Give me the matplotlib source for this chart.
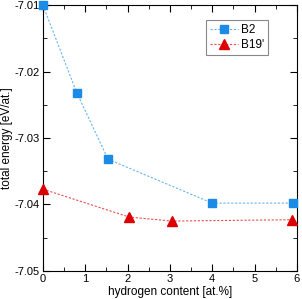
import numpy as np
import matplotlib.pyplot as plt
from matplotlib.ticker import MultipleLocator

plt.rcParams['font.family'] = ['Liberation Sans', 'DejaVu Sans']

# B2 phase
x_b2 = [0.0, 0.8, 1.54, 4.0, 5.9]
e_b2 = [-7.0100, -7.0232, -7.0332, -7.0398, -7.0398]
# B19' phase
x_b19 = [0.0, 2.04, 3.04, 5.88]
e_b19 = [-7.0377, -7.0419, -7.0425, -7.0423]

fig = plt.figure(figsize=(3.02, 2.99), dpi=100)
ax = fig.add_axes([0.142, 0.094, 0.841, 0.889])

ax.plot(x_b2, e_b2, ls=(0, (2, 1.5)), lw=0.8, color='#6ab4f0', marker='s', ms=5.5,
        mfc='#1a8ce8', mec='#1a8ce8', label='B2', clip_on=False, zorder=3)
ax.plot(x_b19, e_b19, ls=(0, (2, 1.5)), lw=0.8, color='#e85050', marker='^', ms=6.5,
        mfc='#dd0000', mec='#dd0000', label="B19'", clip_on=False, zorder=3)

ax.set_xlim(0, 6)
ax.set_ylim(-7.05, -7.01)
ax.xaxis.set_major_locator(MultipleLocator(1))
ax.xaxis.set_minor_locator(MultipleLocator(0.5))
ax.yaxis.set_major_locator(MultipleLocator(0.01))
ax.yaxis.set_minor_locator(MultipleLocator(0.005))
ax.tick_params(which='both', direction='in', top=True, right=True, labelsize=8, pad=2)
ax.tick_params(which='major', length=5)
ax.tick_params(which='minor', length=3)
ax.set_yticklabels(['%.2f' % v for v in ax.get_yticks()])

ax.set_xlabel('hydrogen content [at.%]', fontsize=8.5, labelpad=2)
ax.set_ylabel('total energy [eV/at.]', fontsize=8.5)
ax.yaxis.set_label_coords(-0.118, 0.5)

leg = ax.legend(loc='upper right', bbox_to_anchor=(0.91, 0.965), fontsize=8.5,
                fancybox=False, framealpha=1, edgecolor='#888888',
                handlelength=2.4, borderpad=0.3, labelspacing=0.3, handletextpad=0.3)
leg.get_frame().set_linewidth(0.8)

fig.savefig('out.png', dpi=100)
